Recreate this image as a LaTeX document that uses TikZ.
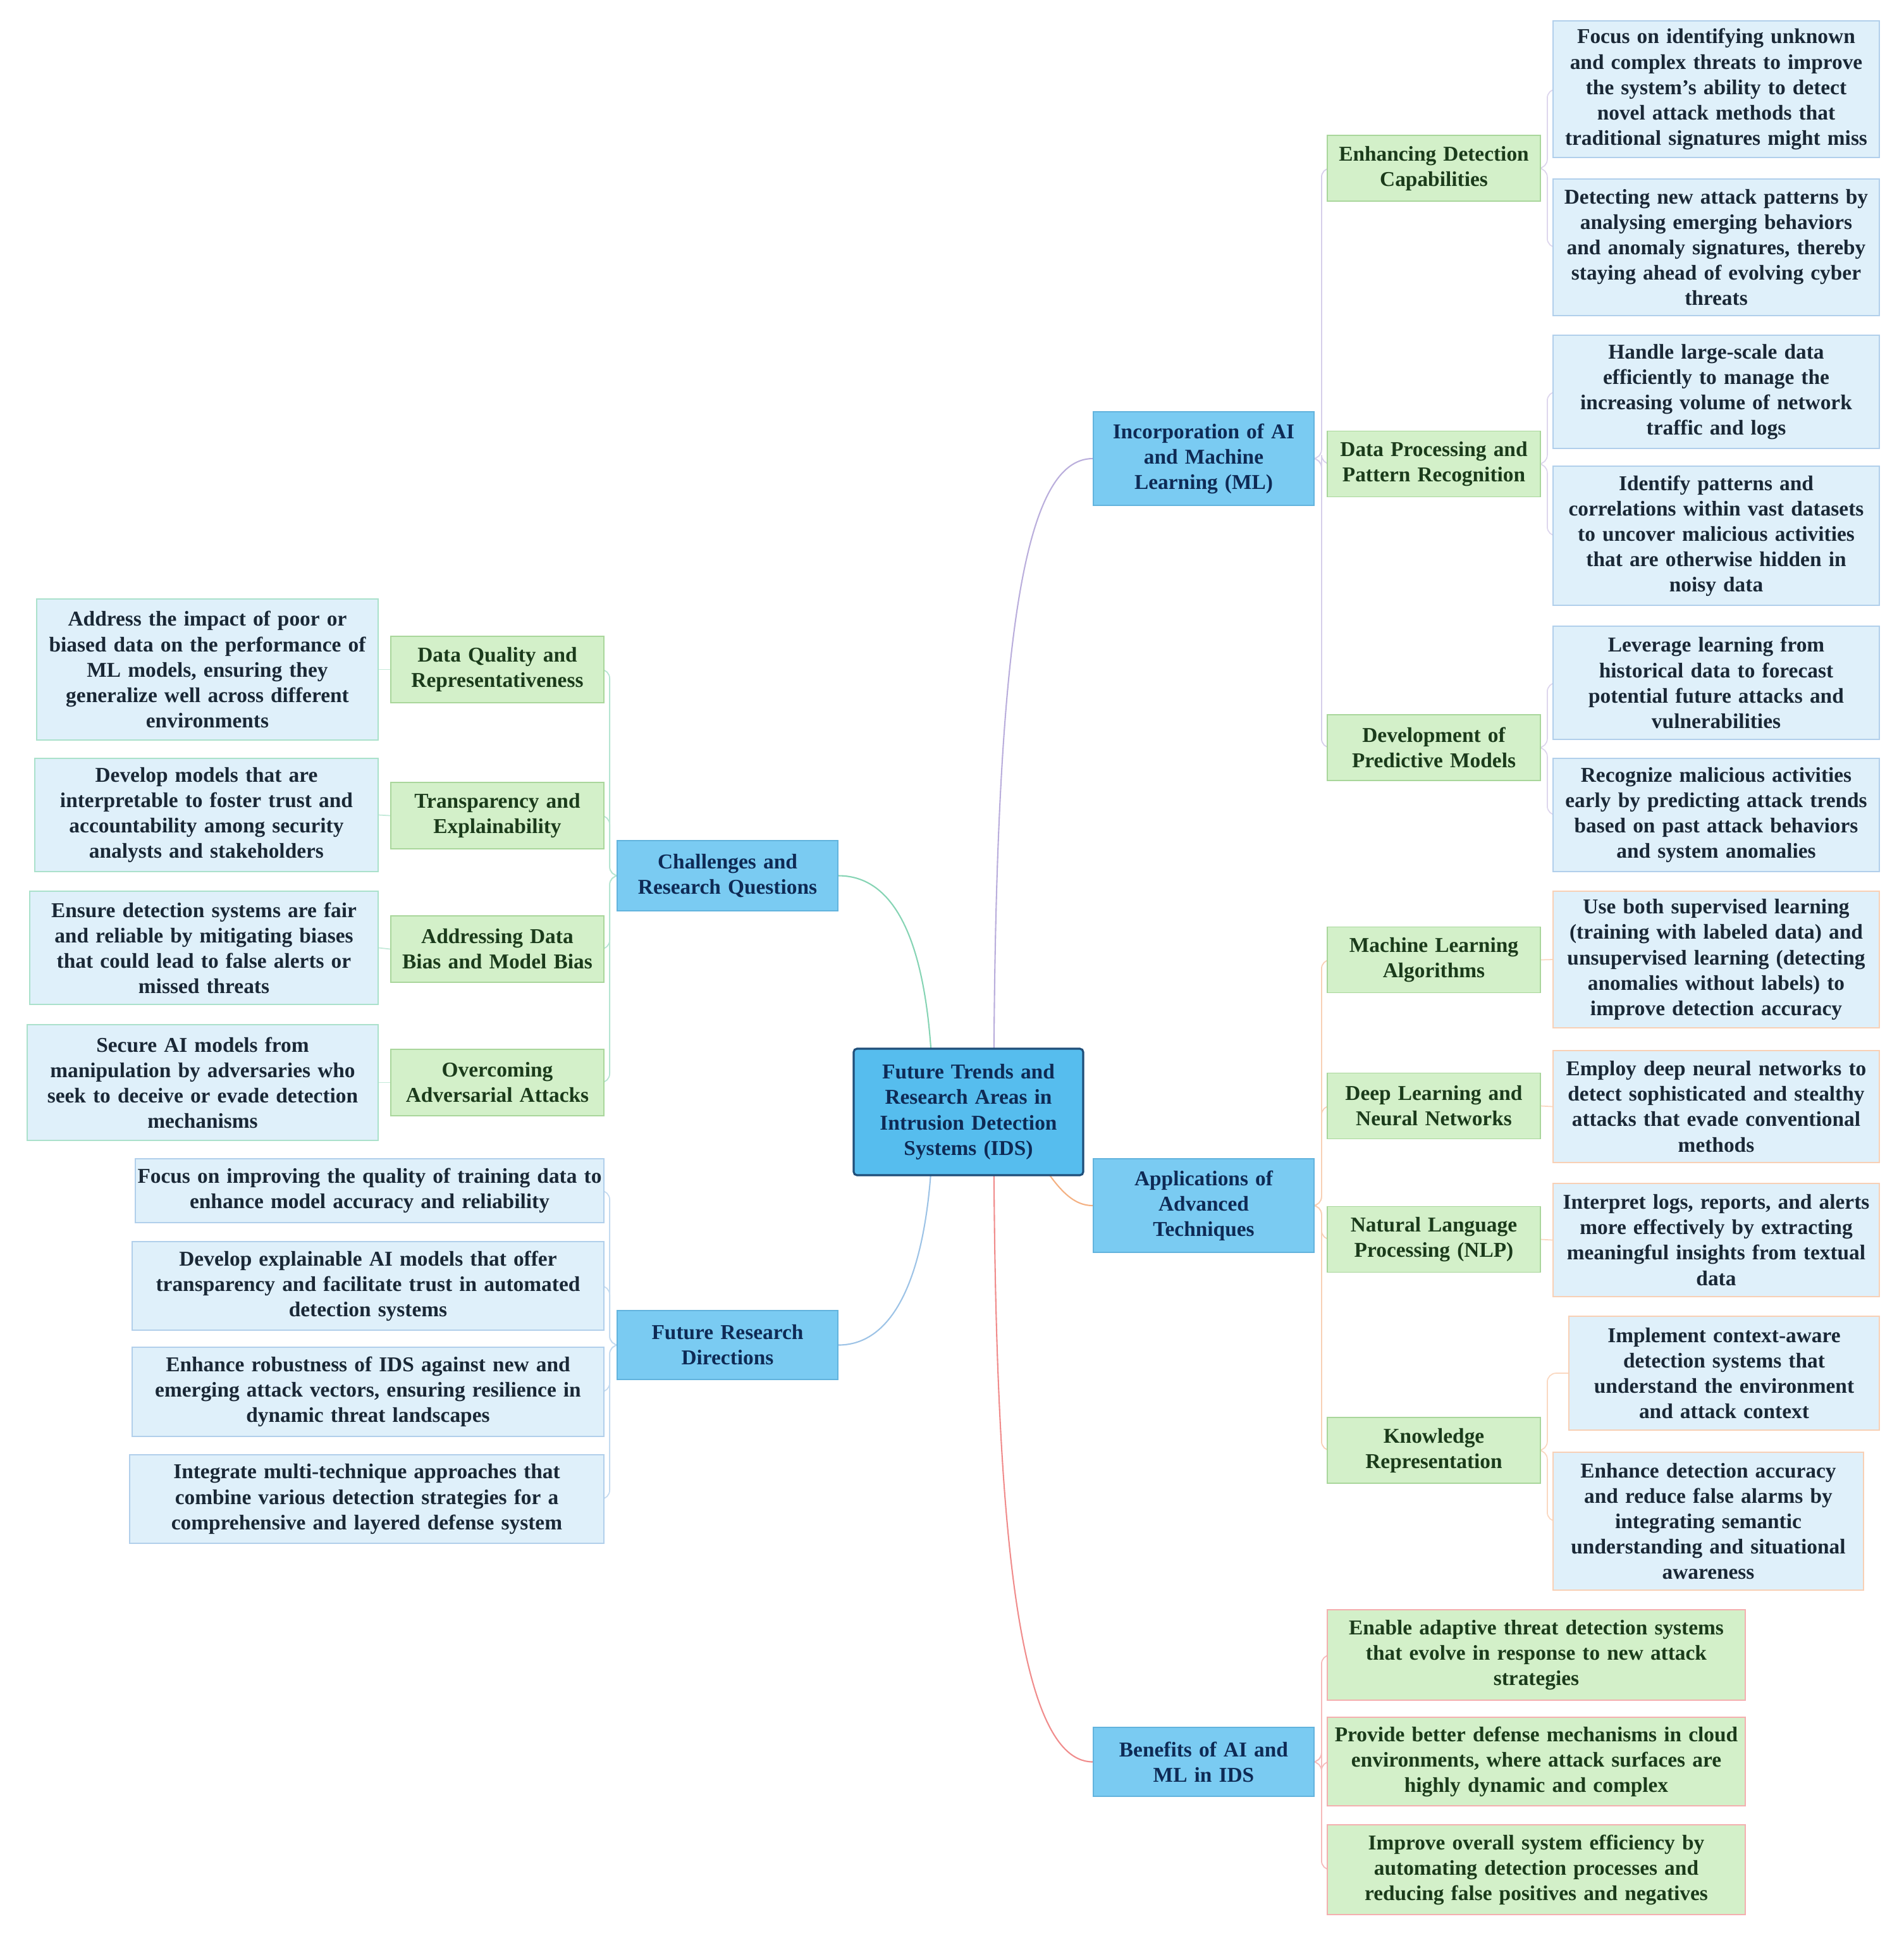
\documentclass[tikz,border=0pt]{standalone}
\usepackage{fontspec}
\setmainfont{Liberation Serif}
\usepackage{tikz}
\usetikzlibrary{backgrounds}

\definecolor{rootfill}{HTML}{56BDEE}
\definecolor{rootline}{HTML}{1F4E79}
\definecolor{mainfill}{HTML}{7ACBF2}
\definecolor{mainline}{HTML}{62B3DD}
\definecolor{subfill}{HTML}{D3F0C9}
\definecolor{subline}{HTML}{A9D69B}
\definecolor{leaffill}{HTML}{DFF0FA}
\definecolor{navytext}{HTML}{0E2A55}
\definecolor{greentext}{HTML}{1B3B1B}
\definecolor{leaftext}{HTML}{1A2836}
\definecolor{chalcol}{HTML}{86D4B4}
\definecolor{futcol}{HTML}{9DC3E6}
\definecolor{inccol}{HTML}{BAAEDC}
\definecolor{appcol}{HTML}{F4B183}
\definecolor{bencol}{HTML}{F08C8C}

\tikzset{
	box/.style={rectangle, inner xsep=0pt, inner ysep=0pt, align=center,
		font=\fontsize{9.5}{11.4}\selectfont\bfseries, line width=0.5pt},
	rootbox/.style={box, fill=rootfill, draw=rootline, line width=0.9pt,
		rounded corners=1.5pt, text=navytext},
	mainbox/.style={box, fill=mainfill, draw=mainline, text=navytext},
	subbox/.style={box, fill=subfill, draw=subline, text=greentext},
	leafbox/.style={box, fill=leaffill, text=leaftext},
	link/.style={line width=0.6pt},
	sublink/.style={line width=0.5pt, rounded corners=4pt},
}

\begin{document}
\begin{tikzpicture}
		%%%%% START %%%%%
		\useasboundingbox (0, 0) rectangle (30.11, -30.64);
		
		% centre
		\node[rootbox, text width=3.63cm, minimum height=2.00cm] (root) at (15.315, -17.58) {Future Trends and\\Research Areas in\\Intrusion Detection\\Systems (IDS)};
		
		% main branches
		\node[mainbox, text width=3.49cm, minimum height=1.48cm] (inc) at (19.035, -7.25) {Incorporation of AI\\and Machine\\Learning (ML)};
		\node[mainbox, text width=3.49cm, minimum height=1.48cm] (app) at (19.035, -19.06) {Applications of\\Advanced\\Techniques};
		\node[mainbox, text width=3.49cm, minimum height=1.09cm] (ben) at (19.035, -27.855) {Benefits of AI and\\ML in IDS};
		\node[mainbox, text width=3.49cm, minimum height=1.11cm] (chal) at (11.505, -13.845) {Challenges and\\Research Questions};
		\node[mainbox, text width=3.49cm, minimum height=1.09cm] (fut) at (11.505, -21.265) {Future Research\\Directions};
		
		% right side, second level
		\node[subbox, text width=3.37cm, minimum height=1.04cm] (enh) at (22.675, -2.66) {Enhancing Detection\\Capabilities};
		\node[subbox, text width=3.37cm, minimum height=1.04cm] (dpr) at (22.675, -7.335) {Data Processing and\\Pattern Recognition};
		\node[subbox, text width=3.37cm, minimum height=1.04cm] (dev) at (22.675, -11.82) {Development of\\Predictive Models};
		\node[subbox, text width=3.37cm, minimum height=1.04cm] (mla) at (22.675, -15.175) {Machine Learning\\Algorithms};
		\node[subbox, text width=3.37cm, minimum height=1.04cm] (dln) at (22.675, -17.485) {Deep Learning and\\Neural Networks};
		\node[subbox, text width=3.37cm, minimum height=1.04cm] (nlp) at (22.675, -19.595) {Natural Language\\Processing (NLP)};
		\node[subbox, text width=3.37cm, minimum height=1.04cm] (kr) at (22.675, -22.93) {Knowledge\\Representation};
		
		% right side, leaves
		\node[leafbox, draw=futcol!80, text width=5.16cm, minimum height=2.16cm] (l1) at (27.14, -1.41) {Focus on identifying unknown\\and complex threats to improve\\the system's ability to detect\\novel attack methods that\\traditional signatures might miss};
		\node[leafbox, draw=futcol!80, text width=5.16cm, minimum height=2.16cm] (l2) at (27.14, -3.91) {Detecting new attack patterns by\\analysing emerging behaviors\\and anomaly signatures, thereby\\staying ahead of evolving cyber\\threats};
		\node[leafbox, draw=futcol!80, text width=5.16cm, minimum height=1.79cm] (l3) at (27.14, -6.195) {Handle large-scale data\\efficiently to manage the\\increasing volume of network\\traffic and logs};
		\node[leafbox, draw=futcol!80, text width=5.16cm, minimum height=2.20cm] (l4) at (27.14, -8.47) {Identify patterns and\\correlations within vast datasets\\to uncover malicious activities\\that are otherwise hidden in\\noisy data};
		\node[leafbox, draw=futcol!80, text width=5.16cm, minimum height=1.79cm] (l5) at (27.14, -10.795) {Leverage learning from\\historical data to forecast\\potential future attacks and\\vulnerabilities};
		\node[leafbox, draw=futcol!80, text width=5.16cm, minimum height=1.79cm] (l6) at (27.14, -12.885) {Recognize malicious activities\\early by predicting attack trends\\based on past attack behaviors\\and system anomalies};
		\node[leafbox, draw=appcol!60, text width=5.16cm, minimum height=2.16cm] (l7) at (27.14, -15.17) {Use both supervised learning\\(training with labeled data) and\\unsupervised learning (detecting\\anomalies without labels) to\\improve detection accuracy};
		\node[leafbox, draw=appcol!60, text width=5.16cm, minimum height=1.77cm] (l8) at (27.14, -17.495) {Employ deep neural networks to\\detect sophisticated and stealthy\\attacks that evade conventional\\methods};
		\node[leafbox, draw=appcol!60, text width=5.16cm, minimum height=1.79cm] (l9) at (27.14, -19.605) {Interpret logs, reports, and alerts\\more effectively by extracting\\meaningful insights from textual\\data};
		\node[leafbox, draw=appcol!60, text width=4.91cm, minimum height=1.80cm] (l10) at (27.265, -21.71) {Implement context-aware\\detection systems that\\understand the environment\\and attack context};
		\node[leafbox, draw=appcol!60, text width=4.91cm, minimum height=2.18cm] (l11) at (27.015, -24.05) {Enhance detection accuracy\\and reduce false alarms by\\integrating semantic\\understanding and situational\\awareness};
		
		% benefits
		\node[subbox, draw=bencol!70, text width=6.61cm, minimum height=1.43cm] (b1) at (24.295, -26.165) {Enable adaptive threat detection systems\\that evolve in response to new attack\\strategies};
		\node[subbox, draw=bencol!70, text width=6.61cm, minimum height=1.40cm] (b2) at (24.295, -27.85) {Provide better defense mechanisms in cloud\\environments, where attack surfaces are\\highly dynamic and complex};
		\node[subbox, draw=bencol!70, text width=6.61cm, minimum height=1.42cm] (b3) at (24.295, -29.56) {Improve overall system efficiency by\\automating detection processes and\\reducing false positives and negatives};
		
		% left side, second level
		\node[subbox, text width=3.37cm, minimum height=1.05cm] (dq) at (7.865, -10.585) {Data Quality and\\Representativeness};
		\node[subbox, text width=3.37cm, minimum height=1.05cm] (te) at (7.865, -12.895) {Transparency and\\Explainability};
		\node[subbox, text width=3.37cm, minimum height=1.05cm] (ab) at (7.865, -15.005) {Addressing Data\\Bias and Model Bias};
		\node[subbox, text width=3.37cm, minimum height=1.05cm] (oa) at (7.865, -17.115) {Overcoming\\Adversarial Attacks};
		
		% left side, leaves
		\node[leafbox, draw=chalcol!70, text width=5.40cm, minimum height=2.23cm] (c1) at (3.28, -10.585) {Address the impact of poor or\\biased data on the performance of\\ML models, ensuring they\\generalize well across different\\environments};
		\node[leafbox, draw=chalcol!70, text width=5.43cm, minimum height=1.79cm] (c2) at (3.265, -12.885) {Develop models that are\\interpretable to foster trust and\\accountability among security\\analysts and stakeholders};
		\node[leafbox, draw=chalcol!70, text width=5.51cm, minimum height=1.79cm] (c3) at (3.225, -14.985) {Ensure detection systems are fair\\and reliable by mitigating biases\\that could lead to false alerts or\\missed threats};
		\node[leafbox, draw=chalcol!70, text width=5.55cm, minimum height=1.83cm] (c4) at (3.205, -17.115) {Secure AI models from\\manipulation by adversaries who\\seek to deceive or evade detection\\mechanisms};
		
		% future research
		\node[leafbox, draw=futcol!80, text width=7.41cm, minimum height=1.01cm] (f1) at (5.845, -18.825) {Focus on improving the quality of training data to\\enhance model accuracy and reliability};
		\node[leafbox, draw=futcol!80, text width=7.46cm, minimum height=1.40cm] (f2) at (5.82, -20.33) {Develop explainable AI models that offer\\transparency and facilitate trust in automated\\detection systems};
		\node[leafbox, draw=futcol!80, text width=7.46cm, minimum height=1.41cm] (f3) at (5.82, -22.005) {Enhance robustness of IDS against new and\\emerging attack vectors, ensuring resilience in\\dynamic threat landscapes};
		\node[leafbox, draw=futcol!80, text width=7.50cm, minimum height=1.40cm] (f4) at (5.80, -23.70) {Integrate multi-technique approaches that\\combine various detection strategies for a\\comprehensive and layered defense system};
		
		\begin{pgfonlayer}{background}
		% curves out of the centre
		\draw[link, color=inccol] ([xshift=0.4cm]root.center) .. controls (15.72, -10.0) and (16.2, -7.25) .. (inc.west);
		\draw[link, color=bencol] ([xshift=0.4cm]root.center) .. controls (15.72, -23.5) and (16.0, -27.855) .. (ben.west);
		\draw[link, color=appcol] ([xshift=0.7cm]root.center) .. controls (16.6, -18.7) and (16.9, -19.06) .. (app.west);
		\draw[link, color=chalcol] ([xshift=-0.56cm]root.center) .. controls (14.75, -15.0) and (14.2, -13.845) .. (chal.east);
		\draw[link, color=futcol] ([xshift=-0.56cm]root.center) .. controls (14.75, -20.0) and (14.2, -21.265) .. (fut.east);
		
		% second level
		\draw[sublink, color=inccol!60] (inc.east) -- ++(0.11, 0) |- (enh.west);
		\draw[sublink, color=inccol!60] (inc.east) -- ++(0.11, 0) |- (dpr.west);
		\draw[sublink, color=inccol!60] (inc.east) -- ++(0.11, 0) |- (dev.west);
		\draw[sublink, color=appcol!60] (app.east) -- ++(0.11, 0) |- (mla.west);
		\draw[sublink, color=appcol!60] (app.east) -- ++(0.11, 0) |- (dln.west);
		\draw[sublink, color=appcol!60] (app.east) -- ++(0.11, 0) |- (nlp.west);
		\draw[sublink, color=appcol!60] (app.east) -- ++(0.11, 0) |- (kr.west);
		\draw[sublink, color=bencol!60] (ben.east) -- ++(0.11, 0) |- (b1.west);
		\draw[sublink, color=bencol!60] (ben.east) -- ++(0.11, 0) |- (b2.west);
		\draw[sublink, color=bencol!60] (ben.east) -- ++(0.11, 0) |- (b3.west);
		\draw[sublink, color=chalcol!60] (chal.west) -- ++(-0.11, 0) |- (dq.east);
		\draw[sublink, color=chalcol!60] (chal.west) -- ++(-0.11, 0) |- (te.east);
		\draw[sublink, color=chalcol!60] (chal.west) -- ++(-0.11, 0) |- (ab.east);
		\draw[sublink, color=chalcol!60] (chal.west) -- ++(-0.11, 0) |- (oa.east);
		\draw[sublink, color=futcol!60] (fut.west) -- ++(-0.11, 0) |- (f1.east);
		\draw[sublink, color=futcol!60] (fut.west) -- ++(-0.11, 0) |- (f2.east);
		\draw[sublink, color=futcol!60] (fut.west) -- ++(-0.11, 0) |- (f3.east);
		\draw[sublink, color=futcol!60] (fut.west) -- ++(-0.11, 0) |- (f4.east);
		
		% third level
		\draw[sublink, color=inccol!50] (enh.east) -- ++(0.1, 0) |- (l1.west);
		\draw[sublink, color=inccol!50] (enh.east) -- ++(0.1, 0) |- (l2.west);
		\draw[sublink, color=inccol!50] (dpr.east) -- ++(0.1, 0) |- (l3.west);
		\draw[sublink, color=inccol!50] (dpr.east) -- ++(0.1, 0) |- (l4.west);
		\draw[sublink, color=inccol!50] (dev.east) -- ++(0.1, 0) |- (l5.west);
		\draw[sublink, color=inccol!50] (dev.east) -- ++(0.1, 0) |- (l6.west);
		\draw[sublink, color=appcol!50] (mla.east) -- (l7.west);
		\draw[sublink, color=appcol!50] (dln.east) -- (l8.west);
		\draw[sublink, color=appcol!50] (nlp.east) -- (l9.west);
		\draw[sublink, color=appcol!50] (kr.east) -- ++(0.1, 0) |- (l10.west);
		\draw[sublink, color=appcol!50] (kr.east) -- ++(0.1, 0) |- (l11.west);
		\draw[sublink, color=chalcol!50] (dq.west) -- (c1.east);
		\draw[sublink, color=chalcol!50] (te.west) -- (c2.east);
		\draw[sublink, color=chalcol!50] (ab.west) -- (c3.east);
		\draw[sublink, color=chalcol!50] (oa.west) -- (c4.east);
		\end{pgfonlayer}
		
		%%%%% END %%%%%
	\end{tikzpicture}
\end{document}
